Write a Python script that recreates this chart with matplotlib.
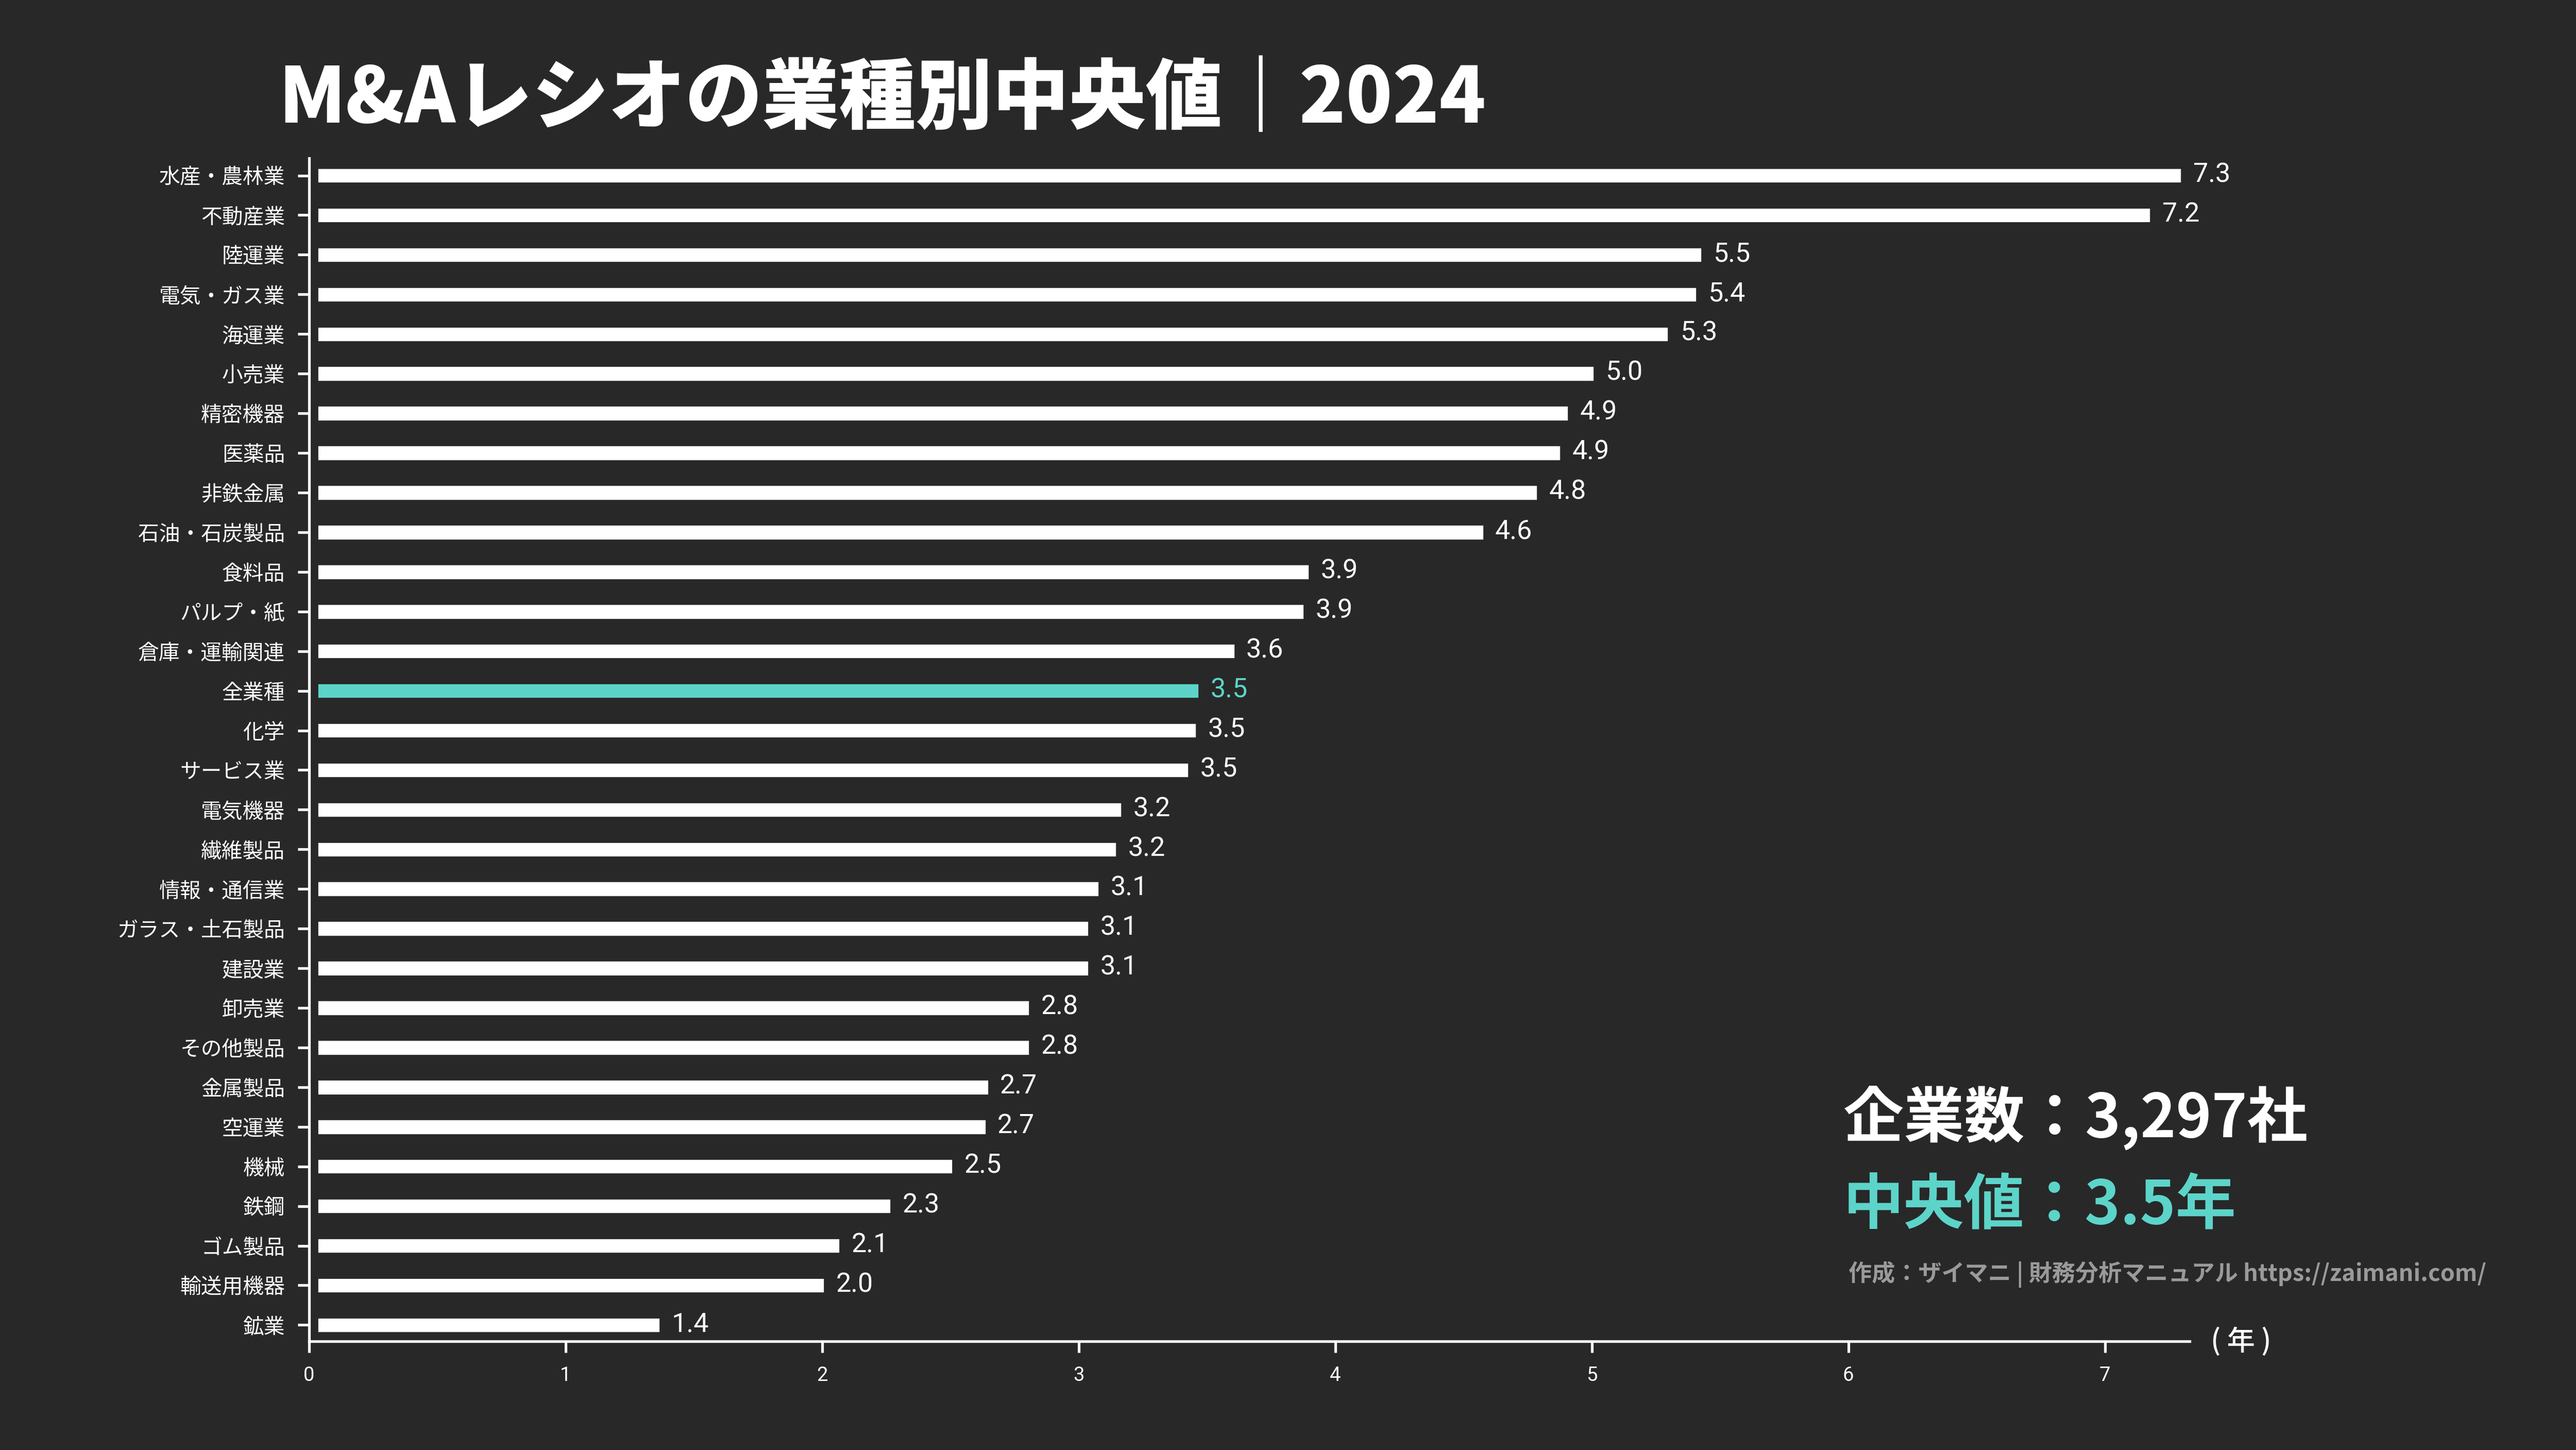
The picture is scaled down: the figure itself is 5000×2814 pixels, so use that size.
import matplotlib
matplotlib.use("Agg")
import matplotlib.pyplot as plt

categories = [
    "水産・農林業", "不動産業", "陸運業", "電気・ガス業", "海運業", "小売業",
    "精密機器", "医薬品", "非鉄金属", "石油・石炭製品", "食料品", "パルプ・紙",
    "倉庫・運輸関連", "全業種", "化学", "サービス業", "電気機器", "繊維製品",
    "情報・通信業", "ガラス・土石製品", "建設業", "卸売業", "その他製品",
    "金属製品", "空運業", "機械", "鉄鋼", "ゴム製品", "輸送用機器", "鉱業",
]
values = [
    7.33, 7.21, 5.46, 5.44, 5.33, 5.04,
    4.94, 4.91, 4.82, 4.61, 3.93, 3.91,
    3.64, 3.50, 3.49, 3.46, 3.20, 3.18,
    3.11, 3.07, 3.07, 2.84, 2.84,
    2.68, 2.67, 2.54, 2.30, 2.10, 2.04, 1.40,
]
highlight = "全業種"
xticks = [0, 1, 2, 3, 4, 5, 6, 7]

title = "M&Aレシオの業種別中央値｜2024"
count_text = "企業数：3,297社"
median_text = "中央値：3.5年"
credit_text = "作成：ザイマニ | 財務分析マニュアル https://zaimani.com/"
unit_text = "( 年 )"

BG = "#282828"
TEAL = "#5dd4c9"
FONT = ["Noto Sans CJK JP", "DejaVu Sans"]
NUMFONT = ["Roboto", "Noto Sans CJK JP", "DejaVu Sans"]

plt.rcParams["font.family"] = FONT

fig = plt.figure(figsize=(16, 9.0048), dpi=312.5, facecolor=BG)
ax = fig.add_axes([0.12, 0.075, 0.730, 0.816])
ax.set_facecolor(BG)

ypos = list(range(len(categories)))
colors = [TEAL if c == highlight else "white" for c in categories]
ax.barh(ypos, values, height=0.8, color=colors, edgecolor=BG, linewidth=8.0, zorder=2)

for y, v, c in zip(ypos, values, colors):
    ax.annotate(f"{v:.1f}", xy=(v, y), xytext=(1.5, 0.3), textcoords="offset points",
                ha="left", va="center", color=c, fontsize=12, fontweight="normal",
                family=NUMFONT, zorder=4)

ax.set_yticks(ypos)
ax.set_yticklabels(categories)
ax.set_ylim(len(categories) - 1 + 0.41, -0.44)
ax.set_xlim(0, max(values))
ax.set_xticks(xticks)
ax.set_xticklabels([str(t) for t in xticks])

for s in ["top", "right"]:
    ax.spines[s].set_visible(False)
for s in ["left", "bottom"]:
    ax.spines[s].set_color("white")
    ax.spines[s].set_linewidth(1.2)
    ax.spines[s].set_zorder(5)

ax.tick_params(axis="y", colors="white", length=5, width=1.2, pad=5.8, labelsize=9.4)
ax.tick_params(axis="x", colors="white", length=5, width=1.2, pad=6, labelsize=8.8)
for lab in ax.get_xticklabels():
    lab.set_family(NUMFONT)

fig.text(0.108, 0.931, title, color="white", fontsize=34.3, fontweight="black",
         ha="left", va="center", family=FONT)

fig.text(0.7156, 0.229, count_text, color="white", fontsize=27, fontweight="bold",
         ha="left", va="center", family=FONT)
fig.text(0.7156, 0.168, median_text, color=TEAL, fontsize=27, fontweight="bold",
         ha="left", va="center", family=FONT)
fig.text(0.7175, 0.121, credit_text, color="#9a9a9a", fontsize=10.4, fontweight="bold",
         ha="left", va="center", family=FONT)
fig.text(0.870, 0.0748, unit_text, color="white", fontsize=12.5, fontweight="medium",
         ha="center", va="center", family=FONT)

fig.savefig("out.png", dpi=312.5, facecolor=BG)
